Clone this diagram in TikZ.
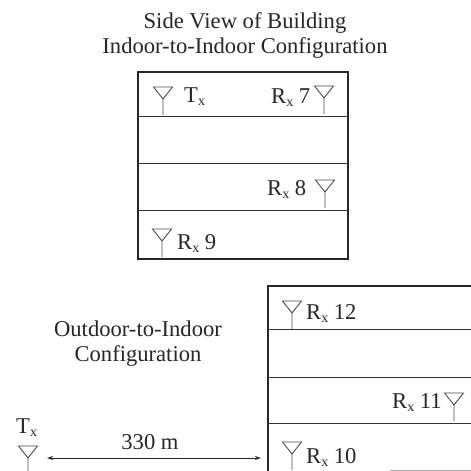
\documentclass[tikz,border=0pt]{standalone}
\usepackage{fontspec}
\setmainfont{Liberation Serif}
\usetikzlibrary{arrows.meta}
\newcommand{\RX}{R\raisebox{-3.5pt}{\fontsize{14}{14}\selectfont x}}
\newcommand{\TX}{T\raisebox{-3.5pt}{\fontsize{14}{14}\selectfont x}}
\tikzset{
  x=1pt,y=-1pt,
  wall/.style={draw=black!85,line width=1.5pt},
  floorline/.style={draw=black!80,line width=1pt},
  antennaline/.style={draw=black!70,line width=0.9pt,line join=miter},
  title/.style={font=\fontsize{22.6}{25}\selectfont,align=center,text=black!85,inner sep=0pt},
  lab/.style={font=\fontsize{22.6}{24}\selectfont,text=black!85,inner sep=0pt,anchor=base west},
  dim/.style={draw=black!85,line width=0.9pt,{Stealth[length=6pt,width=4pt]}-{Stealth[length=6pt,width=4pt]}},
  antenna/.pic={\draw[antennaline] (-9.5,-12) -- (9.5,-12) -- (0,0) -- cycle (0,0) -- (0,16);}
}
\begin{document}
\begin{tikzpicture}
\useasboundingbox (0,0) rectangle (471,471);
\fill[white] (0,0) rectangle (471,471);
\node[title] (t1) at (245,35.5) {Side View of Building\\Indoor-to-Indoor Configuration};
\draw[wall] (138,72) rectangle (348,259);
\foreach \y in {116,163,210} \draw[floorline] (138,\y) -- (348,\y);
\pic at (163,99) {antenna};
\pic at (324,98) {antenna};
\pic at (325,192) {antenna};
\pic at (162,241) {antenna};
\node[lab] (a) at (184,102) {\TX};
\node[lab] (b) at (271,103) {\RX{} 7};
\node[lab] (c) at (267,195) {\RX{} 8};
\node[lab] (d) at (177,249) {\RX{} 9};
\node[title] (t2) at (138,344) {Outdoor-to-Indoor\\Configuration};
\draw[wall] (471,286) -- (268,286) -- (268,471);
\foreach \y in {329,377,423} \draw[floorline] (268,\y) -- (471,\y);
\draw[draw=black!35,line width=1pt] (390,470) -- (471,470);
\pic at (292,313) {antenna};
\pic at (454,405) {antenna};
\pic at (292,454) {antenna};
\pic at (28,458) {antenna};
\node[lab] (e) at (306,319) {\RX{} 12};
\node[lab] (f) at (392,408) {\RX{} 11};
\node[lab] (g) at (306,463) {\RX{} 10};
\node[lab] (h) at (16,433) {\TX};
\node[lab,anchor=base] (m) at (150,449) {330 m};
\coordinate (p) at (47,458);
\coordinate (q) at (261,458);
\draw[dim] (p) -- (q);
\end{tikzpicture}
\end{document}
